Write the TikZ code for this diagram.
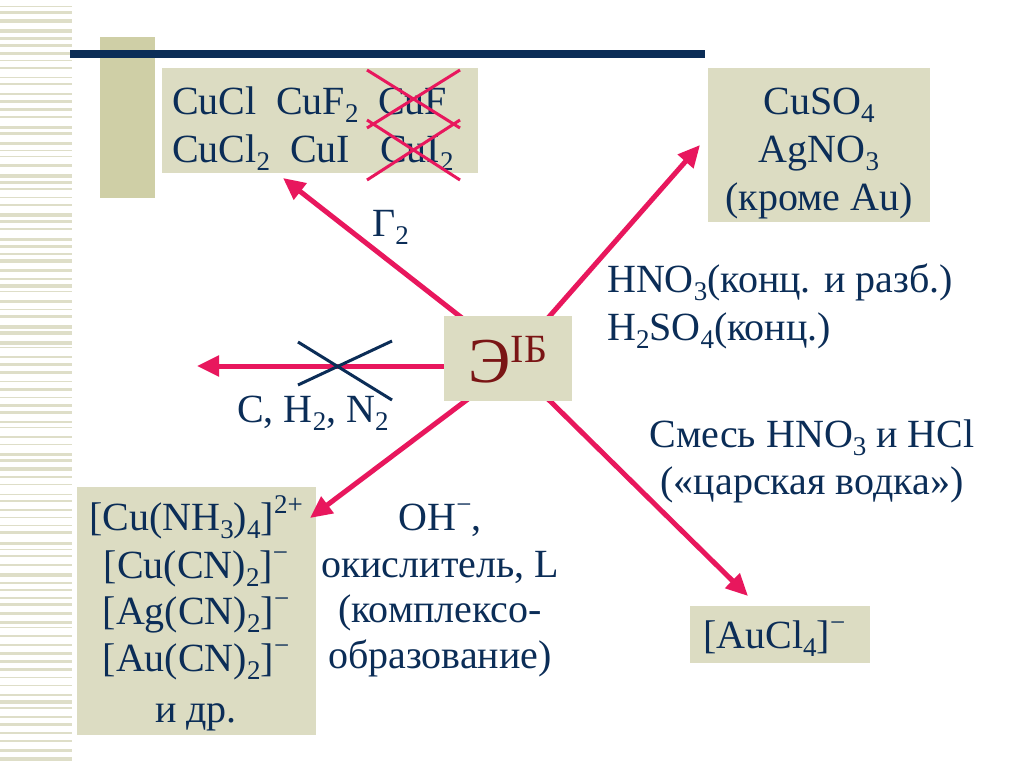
\documentclass[tikz,border=0pt]{standalone}
\usepackage{fontspec}
\setmainfont{Liberation Serif}
\usetikzlibrary{arrows.meta}
\definecolor{navy}{HTML}{0B2D57}
\definecolor{beige}{HTML}{DCDCC2}
\definecolor{olive}{HTML}{CFCFA6}
\definecolor{pinkred}{HTML}{E8175D}
\definecolor{darkred}{HTML}{7A1515}
\definecolor{stripe}{HTML}{DEDEC8}
\newcommand{\dn}[1]{\raisebox{-0.22em}{\fontsize{27}{27}\selectfont #1}}
\newcommand{\upx}[1]{\raisebox{0.42em}{\fontsize{27}{27}\selectfont #1}}
\begin{document}
\begin{tikzpicture}[x=1pt,y=-1pt,
  txt/.style={text=navy,font=\fontsize{40}{47}\selectfont,inner sep=0pt},
  box/.style={fill=beige,draw=none,inner sep=0pt},
  arr/.style={draw=pinkred,line width=5pt,-{Triangle[length=22pt,width=20pt]}},
  cross/.style={draw=pinkred,line width=3pt},
  navycross/.style={draw=navy,line width=3pt}]
\useasboundingbox (0,0) rectangle (1024,768);
\fill[white] (0,0) rectangle (1024,768);
% decorative stripes
\pgfmathsetseed{7}
\foreach \k in {0,...,94} {
  \pgfmathsetmacro\yy{3+\k*8+rnd*3}
  \pgfmathsetmacro\ww{0.8+rnd*3}
  \fill[stripe] (0,\yy) rectangle (72,\yy+\ww);
}
% header bars
\fill[olive] (100,37) rectangle (155,198);
\fill[navy] (70,50) rectangle (705,58);
% boxes
\node[box,minimum width=316pt,minimum height=105pt] (bTL) at (320,120.5) {};
\node[box,minimum width=222pt,minimum height=154pt] (bTR) at (819,145) {};
\node[box,minimum width=239pt,minimum height=248pt] (bBL) at (196.5,611) {};
\node[box,minimum width=180pt,minimum height=57pt] (bBR) at (780,634.5) {};
% arrow ends
\coordinate (s1) at (462,318);
\coordinate (t1) at (283,178);
\coordinate (s2) at (548,318);
\coordinate (t2) at (700,145);
\coordinate (s3) at (446,366);
\coordinate (t3) at (197,366);
\coordinate (s4) at (468,399);
\coordinate (t4) at (310,518);
\coordinate (s5) at (548,399);
\coordinate (t5) at (748,596);
\draw[arr] (s1) -- (t1);
\draw[arr] (s2) -- (t2);
\draw[arr] (s3) -- (t3);
\draw[arr] (s4) -- (t4);
\draw[arr] (s5) -- (t5);
% center node
\node[box,minimum width=128pt,minimum height=85pt] (c) at (508,358.5) {};
\node[text=darkred,inner sep=0pt,anchor=base] (cE) at (508,382)
  {\fontsize{64}{64}\selectfont Э\raisebox{0.3em}{\fontsize{40}{40}\selectfont IБ}};
% crossed-out left arrow
\draw[navycross] (298,342) -- (392,400);
\draw[navycross] (298,385) -- (392,341);
% top-left box text
\node[txt,anchor=base west] (f1) at (172,114) {CuCl};
\node[txt,anchor=base west] (f2) at (276,114) {CuF\dn{2}};
\node[txt,anchor=base west] (f3) at (378,114) {CuF};
\node[txt,anchor=base west] (f4) at (172,162) {CuCl\dn{2}};
\node[txt,anchor=base west] (f5) at (290,162) {CuI};
\node[txt,anchor=base west] (f6) at (380,162) {CuI\dn{2}};
\draw[cross] (367,70) -- (460,128);
\draw[cross] (367,128) -- (460,70);
\draw[cross] (367,120) -- (460,180);
\draw[cross] (367,180) -- (460,120);
% top-right box text
\node[txt,anchor=base] (r1) at (819,114) {CuSO\dn{4}};
\node[txt,anchor=base] (r2) at (819,162) {AgNO\dn{3}};
\node[txt,anchor=base] (r3) at (819,210) {(кроме Au)};
% labels
\node[txt,anchor=base west] (g2) at (372,236) {Г\dn{2}};
\node[txt,anchor=base west] (l1) at (607,292) {HNO\dn{3}(конц. и разб.)};
\node[txt,anchor=base west] (l2) at (607,340) {H\dn{2}SO\dn{4}(конц.)};
\node[txt,anchor=base] (m1) at (812,447) {Смесь HNO\dn{3} и HCl};
\node[txt,anchor=base] (m2) at (812,494) {(«царская водка»)};
\node[txt,anchor=base west] (chn) at (237,422) {C, H\dn{2}, N\dn{2}};
\node[txt,anchor=base] (o1) at (440,530) {OH\upx{−},};
\node[txt,anchor=base] (o2) at (440,577) {окислитель, L};
\node[txt,anchor=base] (o3) at (440,622) {(комплексо-};
\node[txt,anchor=base] (o4) at (440,668) {образование)};
% bottom-left box text
\node[txt,anchor=base] (k1) at (196,530) {[Cu(NH\dn{3})\dn{4}]\upx{2+}};
\node[txt,anchor=base] (k2) at (196,578) {[Cu(CN)\dn{2}]\upx{−}};
\node[txt,anchor=base] (k3) at (196,624) {[Ag(CN)\dn{2}]\upx{−}};
\node[txt,anchor=base] (k4) at (196,671) {[Au(CN)\dn{2}]\upx{−}};
\node[txt,anchor=base] (k5) at (196,722) {и др.};
% bottom-right box text
\node[txt,anchor=base west] (au) at (703,648) {[AuCl\dn{4}]\upx{−}};
\end{tikzpicture}
\end{document}
